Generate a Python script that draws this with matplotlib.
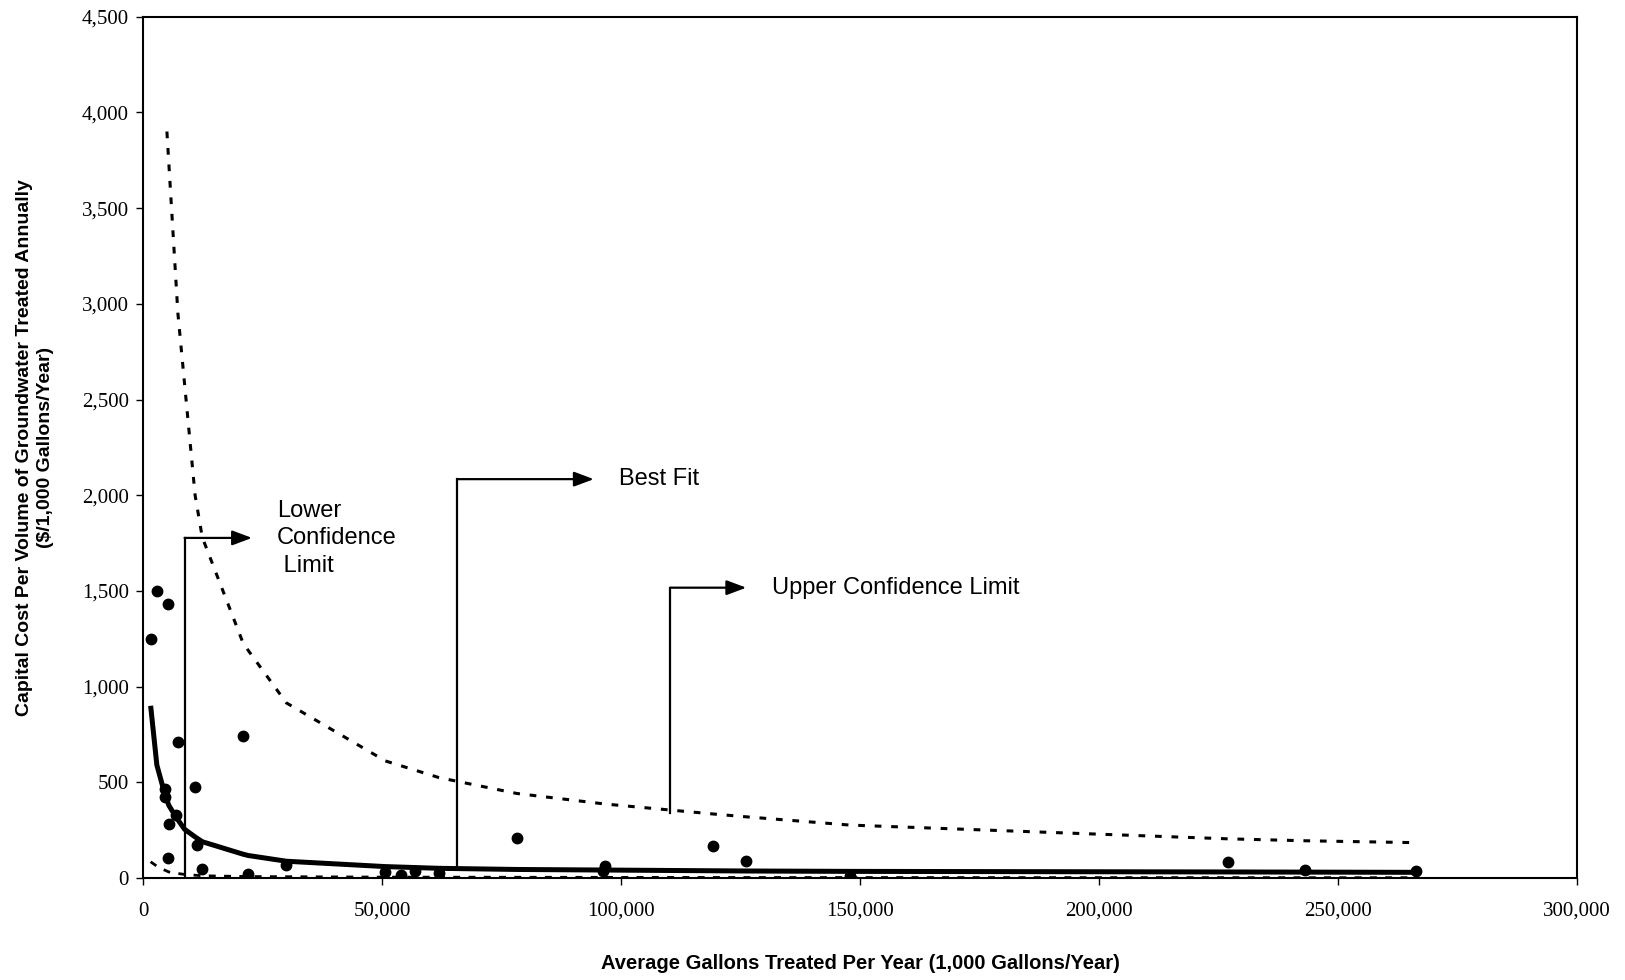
import numpy as np
import matplotlib
matplotlib.use('Agg')
import matplotlib.pyplot as plt
from matplotlib.ticker import FuncFormatter, MultipleLocator

# observed projects (1,000 gal/yr, $/1,000 gal/yr)
pts_x = [1600, 2900, 5200, 4500, 4700, 5400, 5200, 7000, 7300, 10900, 11400, 12400,
         20900, 22000, 30000, 50700, 53900, 56800, 61900, 78200, 96600, 96200,
         119200, 126200, 147800, 227000, 243000, 266400]
pts_y = [1250, 1500, 1430, 465, 425, 285, 105, 330, 710, 475, 175, 50,
         740, 20, 70, 30, 15, 35, 25, 210, 65, 35,
         165, 90, 10, 85, 40, 35]

# best fit curve (vertices)
fit_x = [1600, 2900, 4500, 5400, 7000, 8700, 10900, 12400, 20900, 22000, 30000,
         50700, 61900, 78200, 96600, 126200, 147800, 227000, 266400]
fit_y = [900, 590, 445, 380, 315, 255, 215, 190, 125, 118, 88,
         60, 51, 45, 42, 37, 35, 32, 30]

# upper confidence limit
ucl_x = [5000, 7300, 10900, 12400, 20900, 21700, 30000, 50700, 61900, 78200,
         96600, 119200, 126200, 147800, 186000, 227000, 243000, 266400]
ucl_y = [3900, 2950, 2000, 1780, 1230, 1200, 915, 612, 525, 442,
         387, 335, 320, 277, 242, 205, 195, 185]

# lower confidence limit
lcl_x = [1600, 2900, 4500, 5400, 7300, 8400, 12400, 22000, 50700, 126200, 266400]
lcl_y = [85, 62, 42, 32, 24, 20, 12, 8, 5, 3, 2]

# callouts: (x of stem, y bottom, y top, x arrow tip, label, label x, label y)
callouts = [
    (8700, 0, 1777, 22800, 'Lower\nConfidence\n Limit', 28000, 1775),
    (65700, 54, 2084, 94300, 'Best Fit', 99500, 2084),
    (110300, 340, 1517, 126200, 'Upper Confidence Limit', 131500, 1517),
]

fig = plt.figure(figsize=(16.25, 9.8), dpi=100)
ax = fig.add_axes([0.088, 0.104, 0.8825, 0.879])

ax.plot(ucl_x, ucl_y, color='black', lw=2.2, ls=(0, (2.2, 3.2)))
ax.plot(lcl_x, lcl_y, color='black', lw=2.0, ls=(0, (2.5, 3.0)))
ax.plot(fit_x, fit_y, color='black', lw=3.6, solid_capstyle='butt')
ax.plot(pts_x, pts_y, 'o', color='black', ms=7.5, mec='black')

for sx, yb, yt, tip, lab, lx, ly in callouts:
    ax.plot([sx, sx], [yb, yt], color='black', lw=1.6)
    ax.annotate('', xy=(tip, yt), xytext=(sx, yt),
                arrowprops=dict(arrowstyle='-|>,head_length=1.2,head_width=0.45',
                                color='black', lw=1.6, shrinkA=0, shrinkB=0))
    ax.text(lx, ly, lab, fontsize=17, family=['Liberation Sans', 'DejaVu Sans'],
            ha='left', va='center', linespacing=1.32)

ax.set_xlim(0, 300000)
ax.set_ylim(0, 4500)
ax.xaxis.set_major_locator(MultipleLocator(50000))
ax.yaxis.set_major_locator(MultipleLocator(500))
fmt = FuncFormatter(lambda v, p: '{:,.0f}'.format(v))
ax.xaxis.set_major_formatter(fmt)
ax.yaxis.set_major_formatter(fmt)
ax.tick_params(direction='out', length=5, width=1, labelsize=15, pad=5)
ax.tick_params(axis='x', pad=12)
for lab in ax.get_xticklabels() + ax.get_yticklabels():
    lab.set_family(['Liberation Serif', 'DejaVu Serif'])
for s in ax.spines.values():
    s.set_linewidth(1.5)

ax.set_xlabel('Average Gallons Treated Per Year (1,000 Gallons/Year)',
              fontsize=14.5, fontweight='bold', family=['Liberation Sans', 'DejaVu Sans'],
              labelpad=24)
ax.set_ylabel('Capital Cost Per Volume of Groundwater Treated Annually\n($/1,000 Gallons/Year)',
              fontsize=14, fontweight='bold',
              family=['Liberation Sans Narrow', 'Liberation Sans', 'DejaVu Sans'],
              labelpad=20, linespacing=1.3)

fig.savefig('out.png', dpi=100, facecolor='white')
